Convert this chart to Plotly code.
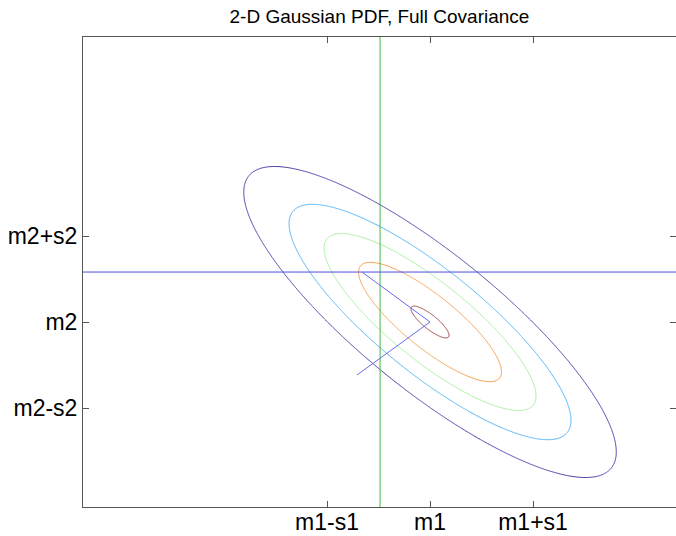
import numpy as np
import plotly.graph_objects as go

# ---- data ----
mean = [0.0, 0.0]                      # m1, m2
std = [1.0, 1.0]                       # s1, s2
rho = -0.835                           # correlation
level_fracs = [0.195, 0.392, 0.589, 0.786, 0.983]   # contour levels as fraction of peak
level_colors = ["#4b3fa9", "#50b4f8", "#a8f0a0", "#f8a050", "#a04848"]
x_range = [-3.369, 2.388]
y_range = [-2.151, 3.314]
vline_x = -0.485
hline_y = 0.581
axes_x = [-0.660, 0.0, -0.709]
axes_y = [0.581, 0.0, -0.616]
x_tickvals = [-1, 0, 1]
x_ticktext = ["m1-s1", "m1", "m1+s1"]
y_tickvals = [-1, 0, 1]
y_ticktext = ["m2-s2", "m2", "m2+s2"]

# ---- gaussian pdf on grid ----
cov = np.array([[std[0] ** 2, rho * std[0] * std[1]],
                [rho * std[0] * std[1], std[1] ** 2]])
icov = np.linalg.inv(cov)
gx = np.linspace(x_range[0], x_range[1], 600)
gy = np.linspace(y_range[0], y_range[1], 600)
X, Y = np.meshgrid(gx, gy)
dx = X - mean[0]
dy = Y - mean[1]
d2 = icov[0, 0] * dx * dx + 2 * icov[0, 1] * dx * dy + icov[1, 1] * dy * dy
norm = 1.0 / (2 * np.pi * np.sqrt(np.linalg.det(cov)))
Z = norm * np.exp(-0.5 * d2)
peak = norm

fig = go.Figure()
for f, c in zip(level_fracs, level_colors):
    lv = f * peak
    fig.add_trace(go.Contour(
        x=gx, y=gy, z=Z, showscale=False,
        contours=dict(start=lv, end=lv, size=1, coloring="none"),
        line=dict(color=c, width=1), hoverinfo="skip"))

fig.add_trace(go.Scatter(x=[vline_x, vline_x], y=y_range, mode="lines",
                         line=dict(color="#44b844", width=1), showlegend=False))
fig.add_trace(go.Scatter(x=x_range, y=[hline_y, hline_y], mode="lines",
                         line=dict(color="#4b4bdc", width=1), showlegend=False))
fig.add_trace(go.Scatter(x=[mean[0] + v for v in axes_x], y=[mean[1] + v for v in axes_y],
                         mode="lines", line=dict(color="#6a6af0", width=1), showlegend=False))

axis_common = dict(showgrid=False, zeroline=False, showline=True, linecolor="#555555",
                   linewidth=1, mirror="ticks", ticks="inside", ticklen=6,
                   tickcolor="#555555", automargin=False,
                   tickfont=dict(family="Liberation Sans, Arial, sans-serif", size=23, color="#000000"))

fig.update_layout(
    width=676, height=536,
    margin=dict(l=83, r=0, t=37, b=29, autoexpand=False),
    paper_bgcolor="white", plot_bgcolor="white",
    showlegend=False,
    title=dict(text="2-D Gaussian PDF, Full Covariance", x=0.5, xref="paper",
               y=1 - 16 / 536, yref="container", yanchor="middle",
               font=dict(family="Liberation Sans, Arial, sans-serif", size=19, color="#000000")),
    xaxis=dict(range=x_range, tickvals=x_tickvals, ticktext=x_ticktext,
               ticklabelstandoff=-6, **axis_common),
    yaxis=dict(range=y_range, tickvals=y_tickvals, ticktext=y_ticktext, **axis_common),
)

fig.write_html("out.html", config={"displayModeBar": False},
               post_script="document.body.style.margin='0';document.body.style.overflow='hidden';")
